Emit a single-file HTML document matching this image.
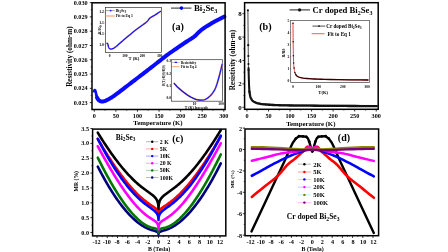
<!DOCTYPE html>
<html><head><meta charset="utf-8"><style>
html,body{margin:0;padding:0;background:#fff;}
svg{display:block;will-change:transform;filter:blur(0.35px);}
text{font-family:"Liberation Serif", serif;}
</style></head><body>
<svg width="448" height="252" viewBox="0 0 448 252">
<rect width="448" height="252" fill="#fff"/>
<line x1="89.80" y1="2.60" x2="92.00" y2="2.60" stroke="#000" stroke-width="0.8"/>
<text x="87.60" y="4.70" font-size="6.2" text-anchor="end" font-weight="bold" fill="#000" >0.030</text>
<line x1="89.80" y1="16.89" x2="92.00" y2="16.89" stroke="#000" stroke-width="0.8"/>
<text x="87.60" y="18.99" font-size="6.2" text-anchor="end" font-weight="bold" fill="#000" >0.029</text>
<line x1="89.80" y1="31.18" x2="92.00" y2="31.18" stroke="#000" stroke-width="0.8"/>
<text x="87.60" y="33.28" font-size="6.2" text-anchor="end" font-weight="bold" fill="#000" >0.028</text>
<line x1="89.80" y1="45.47" x2="92.00" y2="45.47" stroke="#000" stroke-width="0.8"/>
<text x="87.60" y="47.57" font-size="6.2" text-anchor="end" font-weight="bold" fill="#000" >0.027</text>
<line x1="89.80" y1="59.76" x2="92.00" y2="59.76" stroke="#000" stroke-width="0.8"/>
<text x="87.60" y="61.86" font-size="6.2" text-anchor="end" font-weight="bold" fill="#000" >0.026</text>
<line x1="89.80" y1="74.05" x2="92.00" y2="74.05" stroke="#000" stroke-width="0.8"/>
<text x="87.60" y="76.15" font-size="6.2" text-anchor="end" font-weight="bold" fill="#000" >0.025</text>
<line x1="89.80" y1="88.34" x2="92.00" y2="88.34" stroke="#000" stroke-width="0.8"/>
<text x="87.60" y="90.44" font-size="6.2" text-anchor="end" font-weight="bold" fill="#000" >0.024</text>
<line x1="89.80" y1="102.63" x2="92.00" y2="102.63" stroke="#000" stroke-width="0.8"/>
<text x="87.60" y="104.73" font-size="6.2" text-anchor="end" font-weight="bold" fill="#000" >0.023</text>
<line x1="90.70" y1="9.75" x2="92.00" y2="9.75" stroke="#000" stroke-width="0.6"/>
<line x1="90.70" y1="24.04" x2="92.00" y2="24.04" stroke="#000" stroke-width="0.6"/>
<line x1="90.70" y1="38.33" x2="92.00" y2="38.33" stroke="#000" stroke-width="0.6"/>
<line x1="90.70" y1="52.61" x2="92.00" y2="52.61" stroke="#000" stroke-width="0.6"/>
<line x1="90.70" y1="66.90" x2="92.00" y2="66.90" stroke="#000" stroke-width="0.6"/>
<line x1="90.70" y1="81.20" x2="92.00" y2="81.20" stroke="#000" stroke-width="0.6"/>
<line x1="90.70" y1="95.48" x2="92.00" y2="95.48" stroke="#000" stroke-width="0.6"/>
<line x1="94.30" y1="109.50" x2="94.30" y2="111.70" stroke="#000" stroke-width="0.8"/>
<text x="94.30" y="118.30" font-size="6.2" text-anchor="middle" font-weight="bold" fill="#000" >0</text>
<line x1="115.88" y1="109.50" x2="115.88" y2="111.70" stroke="#000" stroke-width="0.8"/>
<text x="115.88" y="118.30" font-size="6.2" text-anchor="middle" font-weight="bold" fill="#000" >50</text>
<line x1="137.47" y1="109.50" x2="137.47" y2="111.70" stroke="#000" stroke-width="0.8"/>
<text x="137.47" y="118.30" font-size="6.2" text-anchor="middle" font-weight="bold" fill="#000" >100</text>
<line x1="159.06" y1="109.50" x2="159.06" y2="111.70" stroke="#000" stroke-width="0.8"/>
<text x="159.06" y="118.30" font-size="6.2" text-anchor="middle" font-weight="bold" fill="#000" >150</text>
<line x1="180.64" y1="109.50" x2="180.64" y2="111.70" stroke="#000" stroke-width="0.8"/>
<text x="180.64" y="118.30" font-size="6.2" text-anchor="middle" font-weight="bold" fill="#000" >200</text>
<line x1="202.22" y1="109.50" x2="202.22" y2="111.70" stroke="#000" stroke-width="0.8"/>
<text x="202.22" y="118.30" font-size="6.2" text-anchor="middle" font-weight="bold" fill="#000" >250</text>
<line x1="223.81" y1="109.50" x2="223.81" y2="111.70" stroke="#000" stroke-width="0.8"/>
<text x="223.81" y="118.30" font-size="6.2" text-anchor="middle" font-weight="bold" fill="#000" >300</text>
<line x1="105.09" y1="109.50" x2="105.09" y2="110.80" stroke="#000" stroke-width="0.6"/>
<line x1="126.68" y1="109.50" x2="126.68" y2="110.80" stroke="#000" stroke-width="0.6"/>
<line x1="148.26" y1="109.50" x2="148.26" y2="110.80" stroke="#000" stroke-width="0.6"/>
<line x1="169.85" y1="109.50" x2="169.85" y2="110.80" stroke="#000" stroke-width="0.6"/>
<line x1="191.43" y1="109.50" x2="191.43" y2="110.80" stroke="#000" stroke-width="0.6"/>
<line x1="213.02" y1="109.50" x2="213.02" y2="110.80" stroke="#000" stroke-width="0.6"/>
<text x="158.00" y="124.90" font-size="6.8" text-anchor="middle" font-weight="bold" fill="#000" >Temperature (K)</text>
<text transform="translate(71.8,56.6) rotate(-90)" font-size="7.2" text-anchor="middle" font-weight="bold">Resistivity (ohm-m)</text>
<polyline points="97.00,97.60 97.12,97.79 97.28,98.06 97.47,98.38 97.68,98.72 97.91,99.08 98.14,99.43 98.37,99.74 98.60,100.00 98.82,100.21 99.05,100.41 99.29,100.58 99.52,100.73 99.77,100.87 100.01,100.99 100.26,101.10 100.50,101.20 100.74,101.29 100.96,101.37 101.19,101.43 101.42,101.48 101.66,101.51 101.91,101.53 102.19,101.53 102.50,101.50 102.82,101.46 103.14,101.42 103.48,101.36 103.83,101.28 104.22,101.17 104.65,101.03 105.14,100.84 105.70,100.60 106.33,100.31 107.02,99.98 107.76,99.61 108.55,99.21 109.38,98.76 110.23,98.28 111.11,97.76 112.00,97.20 112.89,96.61 113.79,96.00 114.70,95.35 115.64,94.66 116.63,93.93 117.68,93.15 118.80,92.30 120.00,91.40 121.32,90.41 122.74,89.32 124.25,88.16 125.81,86.96 127.40,85.74 128.98,84.52 130.52,83.33 132.00,82.20 133.42,81.12 134.80,80.06 136.15,79.03 137.50,78.01 138.85,76.98 140.20,75.94 141.58,74.89 143.00,73.80 144.45,72.69 145.91,71.56 147.38,70.41 148.88,69.26 150.38,68.09 151.91,66.90 153.45,65.71 155.00,64.50 156.61,63.25 158.30,61.93 160.02,60.57 161.75,59.22 163.45,57.89 165.08,56.63 166.61,55.45 168.00,54.40 169.23,53.49 170.30,52.71 171.28,52.02 172.19,51.39 173.07,50.79 173.98,50.18 174.94,49.53 176.00,48.80 177.17,48.00 178.41,47.15 179.69,46.27 181.00,45.37 182.31,44.49 183.59,43.62 184.83,42.78 186.00,42.00 187.12,41.27 188.21,40.58 189.28,39.92 190.31,39.27 191.31,38.65 192.26,38.03 193.16,37.42 194.00,36.80 194.77,36.18 195.46,35.55 196.09,34.94 196.69,34.32 197.26,33.72 197.82,33.13 198.40,32.56 199.00,32.00 199.60,31.47 200.16,30.98 200.70,30.51 201.25,30.04 201.83,29.57 202.47,29.09 203.18,28.57 204.00,28.00 204.95,27.37 206.04,26.68 207.21,25.95 208.44,25.20 209.67,24.46 210.87,23.75 211.99,23.09 213.00,22.50 213.90,21.99 214.73,21.53 215.50,21.11 216.22,20.72 216.93,20.36 217.61,20.01 218.30,19.66 219.00,19.30 219.74,18.92 220.52,18.53 221.31,18.13 222.07,17.75 222.80,17.39 223.44,17.07 223.99,16.80 224.40,16.60" fill="none" stroke="#0a0aff" stroke-width="4.0" stroke-linejoin="round" stroke-linecap="round" />
<polyline points="93.90,91.20 94.05,90.96 94.26,90.60 94.49,90.27 94.70,90.10 94.89,90.14 95.07,90.31 95.24,90.58 95.40,90.90 95.54,91.28 95.66,91.72 95.77,92.24 95.90,92.80 96.04,93.45 96.18,94.17 96.33,94.91 96.50,95.60 96.67,96.24 96.86,96.85 97.06,97.44 97.30,98.00 97.62,98.57 98.00,99.15 98.35,99.65 98.60,100.00" fill="none" stroke="#0a0aff" stroke-width="2.6" stroke-linejoin="round" stroke-linecap="round" />
<line x1="171.00" y1="8.10" x2="191.40" y2="8.10" stroke="#444" stroke-width="1.15"/>
<circle cx="181.40" cy="8.10" r="1.8" fill="#0000ff"/>
<text x="194" y="11.1" font-size="8.8" font-weight="bold">Bi<tspan font-size="6.2" dy="2">2</tspan><tspan dy="-2">Se</tspan><tspan font-size="6.2" dy="2">3</tspan></text>
<text x="172.00" y="30.20" font-size="10.2" text-anchor="start" font-weight="bold" fill="#000" >(a)</text>
<rect x="105.40" y="7.60" width="56.00" height="44.80" fill="none" stroke="#333" stroke-width="0.7"/>
<text x="104.00" y="13.40" font-size="3.8" text-anchor="end" font-weight="bold" fill="#000" >1.2</text>
<line x1="104.50" y1="12.10" x2="105.20" y2="12.10" stroke="#000" stroke-width="0.4"/>
<text x="104.00" y="24.20" font-size="3.8" text-anchor="end" font-weight="bold" fill="#000" >1.1</text>
<line x1="104.50" y1="22.90" x2="105.20" y2="22.90" stroke="#000" stroke-width="0.4"/>
<text x="104.00" y="35.00" font-size="3.8" text-anchor="end" font-weight="bold" fill="#000" >1.1</text>
<line x1="104.50" y1="33.70" x2="105.20" y2="33.70" stroke="#000" stroke-width="0.4"/>
<text x="104.00" y="45.80" font-size="3.8" text-anchor="end" font-weight="bold" fill="#000" >1.0</text>
<line x1="104.50" y1="44.50" x2="105.20" y2="44.50" stroke="#000" stroke-width="0.4"/>
<text x="109.60" y="56.70" font-size="3.6" text-anchor="middle" font-weight="bold" fill="#000" >0</text>
<text x="124.90" y="56.70" font-size="3.6" text-anchor="middle" font-weight="bold" fill="#000" >100</text>
<text x="142.40" y="56.70" font-size="3.6" text-anchor="middle" font-weight="bold" fill="#000" >200</text>
<text x="159.60" y="56.70" font-size="3.6" text-anchor="middle" font-weight="bold" fill="#000" >300</text>
<text x="134.00" y="60.40" font-size="4.6" text-anchor="middle" font-weight="bold" fill="#000" >T (K)</text>
<text transform="translate(101.2,29.8) rotate(-90)" font-size="4.2" text-anchor="middle" font-weight="bold">R/R<tspan font-size="3" dy="0.8">0</tspan></text>
<polyline points="107.00,43.30 107.06,43.33 107.14,43.36 107.23,43.38 107.34,43.42 107.45,43.49 107.57,43.60 107.68,43.77 107.80,44.00 107.91,44.33 108.02,44.75 108.13,45.23 108.24,45.76 108.36,46.28 108.50,46.79 108.64,47.24 108.80,47.60 108.98,47.89 109.17,48.14 109.37,48.36 109.59,48.54 109.81,48.70 110.04,48.82 110.27,48.92 110.50,49.00 110.73,49.06 110.94,49.09 111.16,49.09 111.39,49.07 111.63,49.02 111.89,48.94 112.18,48.84 112.50,48.70 112.83,48.56 113.14,48.44 113.46,48.29 113.81,48.12 114.22,47.88 114.70,47.57 115.29,47.15 116.00,46.60 116.85,45.90 117.84,45.06 118.93,44.11 120.09,43.08 121.31,42.00 122.55,40.91 123.79,39.83 125.00,38.80 126.20,37.79 127.43,36.76 128.68,35.72 129.94,34.67 131.21,33.63 132.48,32.60 133.74,31.59 135.00,30.60 136.30,29.60 137.68,28.57 139.08,27.54 140.47,26.53 141.80,25.56 143.03,24.67 144.11,23.87 145.00,23.20 145.67,22.68 146.16,22.29 146.51,22.01 146.75,21.79 146.93,21.62 147.09,21.45 147.26,21.25 147.50,21.00 147.77,20.70 148.04,20.37 148.29,20.04 148.53,19.71 148.77,19.38 149.01,19.06 149.25,18.77 149.50,18.50 149.74,18.27 149.96,18.07 150.18,17.89 150.41,17.72 150.64,17.56 150.89,17.39 151.18,17.20 151.50,17.00 151.85,16.78 152.22,16.57 152.61,16.36 153.03,16.13 153.48,15.89 153.95,15.62 154.46,15.33 155.00,15.00 155.63,14.60 156.36,14.13 157.16,13.61 157.97,13.07 158.75,12.56 159.46,12.08 160.06,11.69 160.50,11.40" fill="none" stroke="#f9b98a" stroke-width="1.7" stroke-linejoin="round" stroke-linecap="round" />
<polyline points="107.00,43.30 107.06,43.33 107.14,43.36 107.23,43.38 107.34,43.42 107.45,43.49 107.57,43.60 107.68,43.77 107.80,44.00 107.91,44.33 108.02,44.75 108.13,45.23 108.24,45.76 108.36,46.28 108.50,46.79 108.64,47.24 108.80,47.60 108.98,47.89 109.17,48.14 109.37,48.36 109.59,48.54 109.81,48.70 110.04,48.82 110.27,48.92 110.50,49.00 110.73,49.06 110.94,49.09 111.16,49.09 111.39,49.07 111.63,49.02 111.89,48.94 112.18,48.84 112.50,48.70 112.83,48.56 113.14,48.44 113.46,48.29 113.81,48.12 114.22,47.88 114.70,47.57 115.29,47.15 116.00,46.60 116.85,45.90 117.84,45.06 118.93,44.11 120.09,43.08 121.31,42.00 122.55,40.91 123.79,39.83 125.00,38.80 126.20,37.79 127.43,36.76 128.68,35.72 129.94,34.67 131.21,33.63 132.48,32.60 133.74,31.59 135.00,30.60 136.30,29.60 137.68,28.57 139.08,27.54 140.47,26.53 141.80,25.56 143.03,24.67 144.11,23.87 145.00,23.20 145.67,22.68 146.16,22.29 146.51,22.01 146.75,21.79 146.93,21.62 147.09,21.45 147.26,21.25 147.50,21.00 147.77,20.70 148.04,20.37 148.29,20.04 148.53,19.71 148.77,19.38 149.01,19.06 149.25,18.77 149.50,18.50 149.74,18.27 149.96,18.07 150.18,17.89 150.41,17.72 150.64,17.56 150.89,17.39 151.18,17.20 151.50,17.00 151.85,16.78 152.22,16.57 152.61,16.36 153.03,16.13 153.48,15.89 153.95,15.62 154.46,15.33 155.00,15.00 155.63,14.60 156.36,14.13 157.16,13.61 157.97,13.07 158.75,12.56 159.46,12.08 160.06,11.69 160.50,11.40" fill="none" stroke="#1a1aff" stroke-width="1.3" stroke-linejoin="round" stroke-linecap="round" />
<line x1="105.80" y1="10.60" x2="114.70" y2="10.60" stroke="#666" stroke-width="0.6"/>
<circle cx="110.60" cy="10.60" r="0.9" fill="#1a1aff"/>
<text x="115.8" y="12.0" font-size="3.8" font-weight="bold">Bi<tspan font-size="3" dy="1">2</tspan><tspan dy="-1">Se</tspan><tspan font-size="3" dy="1">3</tspan></text>
<line x1="105.80" y1="16.00" x2="114.70" y2="16.00" stroke="#fcc8a8" stroke-width="2.0"/>
<text x="115.80" y="17.40" font-size="3.8" text-anchor="start" font-weight="bold" fill="#000" >Fit to Eq 1</text>
<rect x="171.30" y="59.70" width="51.30" height="41.50" fill="none" stroke="#333" stroke-width="0.7"/>
<text x="171.00" y="62.30" font-size="3.6" text-anchor="end" font-weight="bold" fill="#000" >0.3</text>
<text x="171.00" y="74.80" font-size="3.6" text-anchor="end" font-weight="bold" fill="#000" >0.2</text>
<text x="171.00" y="86.50" font-size="3.6" text-anchor="end" font-weight="bold" fill="#000" >0.1</text>
<text x="171.00" y="98.60" font-size="3.6" text-anchor="end" font-weight="bold" fill="#000" >0.0</text>
<text x="194.60" y="104.80" font-size="3.6" text-anchor="middle" font-weight="bold" fill="#000" >10</text>
<text x="221.00" y="104.80" font-size="3.6" text-anchor="middle" font-weight="bold" fill="#000" >100</text>
<text x="196.60" y="108.60" font-size="3.8" text-anchor="middle" font-weight="bold" fill="#000" >T (K) log scale</text>
<text transform="translate(164.6,75.5) rotate(-90)" font-size="3.2" text-anchor="middle" font-weight="bold">R(T)-R(0)/R(0)</text>
<polyline points="174.30,83.50 174.57,83.80 174.91,84.20 175.32,84.66 175.78,85.19 176.28,85.75 176.83,86.34 177.40,86.92 178.00,87.50 178.64,88.08 179.34,88.70 180.08,89.34 180.86,89.99 181.65,90.65 182.45,91.29 183.23,91.91 184.00,92.50 184.75,93.07 185.50,93.62 186.25,94.16 187.00,94.69 187.75,95.20 188.50,95.69 189.25,96.16 190.00,96.60 190.75,97.02 191.51,97.42 192.27,97.79 193.03,98.15 193.79,98.48 194.54,98.78 195.27,99.06 196.00,99.30 196.72,99.51 197.43,99.70 198.14,99.86 198.84,99.99 199.53,100.10 200.21,100.16 200.86,100.20 201.50,100.20 202.11,100.17 202.68,100.11 203.24,100.03 203.78,99.91 204.32,99.75 204.86,99.55 205.42,99.30 206.00,99.00 206.60,98.65 207.23,98.27 207.86,97.84 208.50,97.36 209.14,96.84 209.77,96.28 210.40,95.66 211.00,95.00 211.59,94.30 212.18,93.55 212.77,92.77 213.34,91.94 213.91,91.05 214.46,90.10 214.99,89.09 215.50,88.00 215.99,86.83 216.45,85.57 216.90,84.25 217.33,82.86 217.75,81.43 218.17,79.97 218.58,78.49 219.00,77.00 219.44,75.40 219.90,73.63 220.36,71.77 220.82,69.91 221.25,68.14 221.63,66.54 221.96,65.20 222.20,64.20" fill="none" stroke="#f9b98a" stroke-width="2.0" stroke-linejoin="round" stroke-linecap="round" />
<polyline points="174.30,83.50 174.57,83.80 174.91,84.20 175.32,84.66 175.78,85.19 176.28,85.75 176.83,86.34 177.40,86.92 178.00,87.50 178.64,88.08 179.34,88.70 180.08,89.34 180.86,89.99 181.65,90.65 182.45,91.29 183.23,91.91 184.00,92.50 184.75,93.07 185.50,93.62 186.25,94.16 187.00,94.69 187.75,95.20 188.50,95.69 189.25,96.16 190.00,96.60 190.75,97.02 191.51,97.42 192.27,97.79 193.03,98.15 193.79,98.48 194.54,98.78 195.27,99.06 196.00,99.30 196.72,99.51 197.43,99.70 198.14,99.86 198.84,99.99 199.53,100.10 200.21,100.16 200.86,100.20 201.50,100.20 202.11,100.17 202.68,100.11 203.24,100.03 203.78,99.91 204.32,99.75 204.86,99.55 205.42,99.30 206.00,99.00 206.60,98.65 207.23,98.27 207.86,97.84 208.50,97.36 209.14,96.84 209.77,96.28 210.40,95.66 211.00,95.00 211.59,94.30 212.18,93.55 212.77,92.77 213.34,91.94 213.91,91.05 214.46,90.10 214.99,89.09 215.50,88.00 215.99,86.83 216.45,85.57 216.90,84.25 217.33,82.86 217.75,81.43 218.17,79.97 218.58,78.49 219.00,77.00 219.44,75.40 219.90,73.63 220.36,71.77 220.82,69.91 221.25,68.14 221.63,66.54 221.96,65.20 222.20,64.20" fill="none" stroke="#1a1aff" stroke-width="1.3" stroke-linejoin="round" stroke-linecap="round" />
<polyline points="174.30,83.50 174.57,83.80 174.91,84.20 175.32,84.66 175.78,85.19 176.28,85.75 176.83,86.34 177.40,86.92 178.00,87.50 178.64,88.08 179.34,88.70 180.08,89.34 180.86,89.99 181.65,90.65 182.45,91.29 183.23,91.91 184.00,92.50 184.75,93.07 185.50,93.62 186.25,94.16 187.00,94.69 187.75,95.20 188.50,95.69 189.25,96.16 190.00,96.60 190.75,97.02 191.51,97.42 192.27,97.79 193.03,98.15 193.79,98.48 194.54,98.78 195.27,99.06 196.00,99.30 196.75,99.50 197.54,99.67 198.34,99.81 199.12,99.92 199.86,100.01 200.52,100.08 201.08,100.14 201.50,100.20" fill="none" stroke="#1a1a70" stroke-width="0.9" stroke-linejoin="round" stroke-linecap="round" opacity="0.55"/>
<line x1="172.10" y1="62.40" x2="179.60" y2="62.40" stroke="#888" stroke-width="0.5"/>
<line x1="174.60" y1="62.40" x2="177.10" y2="62.40" stroke="#2222ff" stroke-width="1.3"/>
<text x="180.70" y="63.70" font-size="3.5" text-anchor="start" font-weight="bold" fill="#000" >Resistivity</text>
<line x1="172.10" y1="66.60" x2="179.60" y2="66.60" stroke="#fbb88a" stroke-width="1.2"/>
<text x="180.70" y="67.90" font-size="3.5" text-anchor="start" font-weight="bold" fill="#000" >Fit to Eq 4</text>
<rect x="92.00" y="2.80" width="133.10" height="106.70" fill="none" stroke="#000" stroke-width="1.5"/>
<line x1="242.40" y1="107.30" x2="244.60" y2="107.30" stroke="#000" stroke-width="0.8"/>
<text x="241.60" y="109.80" font-size="6.9" text-anchor="end" font-weight="bold" fill="#000" >0</text>
<line x1="242.40" y1="83.90" x2="244.60" y2="83.90" stroke="#000" stroke-width="0.8"/>
<text x="241.60" y="86.40" font-size="6.9" text-anchor="end" font-weight="bold" fill="#000" >2</text>
<line x1="242.40" y1="60.50" x2="244.60" y2="60.50" stroke="#000" stroke-width="0.8"/>
<text x="241.60" y="63.00" font-size="6.9" text-anchor="end" font-weight="bold" fill="#000" >4</text>
<line x1="242.40" y1="37.10" x2="244.60" y2="37.10" stroke="#000" stroke-width="0.8"/>
<text x="241.60" y="39.60" font-size="6.9" text-anchor="end" font-weight="bold" fill="#000" >6</text>
<line x1="242.40" y1="13.70" x2="244.60" y2="13.70" stroke="#000" stroke-width="0.8"/>
<text x="241.60" y="16.20" font-size="6.9" text-anchor="end" font-weight="bold" fill="#000" >8</text>
<line x1="243.30" y1="95.60" x2="244.60" y2="95.60" stroke="#000" stroke-width="0.6"/>
<line x1="243.30" y1="72.20" x2="244.60" y2="72.20" stroke="#000" stroke-width="0.6"/>
<line x1="243.30" y1="48.80" x2="244.60" y2="48.80" stroke="#000" stroke-width="0.6"/>
<line x1="243.30" y1="25.40" x2="244.60" y2="25.40" stroke="#000" stroke-width="0.6"/>
<line x1="246.95" y1="109.30" x2="246.95" y2="111.50" stroke="#000" stroke-width="0.8"/>
<text x="246.95" y="118.30" font-size="6.2" text-anchor="middle" font-weight="bold" fill="#000" >0</text>
<line x1="268.50" y1="109.30" x2="268.50" y2="111.50" stroke="#000" stroke-width="0.8"/>
<text x="268.50" y="118.30" font-size="6.2" text-anchor="middle" font-weight="bold" fill="#000" >50</text>
<line x1="290.04" y1="109.30" x2="290.04" y2="111.50" stroke="#000" stroke-width="0.8"/>
<text x="290.04" y="118.30" font-size="6.2" text-anchor="middle" font-weight="bold" fill="#000" >100</text>
<line x1="311.58" y1="109.30" x2="311.58" y2="111.50" stroke="#000" stroke-width="0.8"/>
<text x="311.58" y="118.30" font-size="6.2" text-anchor="middle" font-weight="bold" fill="#000" >150</text>
<line x1="333.13" y1="109.30" x2="333.13" y2="111.50" stroke="#000" stroke-width="0.8"/>
<text x="333.13" y="118.30" font-size="6.2" text-anchor="middle" font-weight="bold" fill="#000" >200</text>
<line x1="354.67" y1="109.30" x2="354.67" y2="111.50" stroke="#000" stroke-width="0.8"/>
<text x="354.67" y="118.30" font-size="6.2" text-anchor="middle" font-weight="bold" fill="#000" >250</text>
<line x1="376.22" y1="109.30" x2="376.22" y2="111.50" stroke="#000" stroke-width="0.8"/>
<text x="376.22" y="118.30" font-size="6.2" text-anchor="middle" font-weight="bold" fill="#000" >300</text>
<line x1="257.72" y1="109.30" x2="257.72" y2="110.60" stroke="#000" stroke-width="0.6"/>
<line x1="279.27" y1="109.30" x2="279.27" y2="110.60" stroke="#000" stroke-width="0.6"/>
<line x1="300.81" y1="109.30" x2="300.81" y2="110.60" stroke="#000" stroke-width="0.6"/>
<line x1="322.36" y1="109.30" x2="322.36" y2="110.60" stroke="#000" stroke-width="0.6"/>
<line x1="343.90" y1="109.30" x2="343.90" y2="110.60" stroke="#000" stroke-width="0.6"/>
<line x1="365.45" y1="109.30" x2="365.45" y2="110.60" stroke="#000" stroke-width="0.6"/>
<text x="310.80" y="125.90" font-size="6.8" text-anchor="middle" font-weight="bold" fill="#000" >Temperature (K)</text>
<text transform="translate(235.0,60.0) rotate(-90)" font-size="7.2" text-anchor="middle" font-weight="bold">Resistivity (ohm-m)</text>
<polyline points="247.90,10.30 247.93,14.07 247.97,19.29 248.03,25.46 248.08,32.13 248.14,38.80 248.20,45.00 248.26,51.13 248.33,57.64 248.39,64.17 248.46,70.32 248.53,75.73 248.60,80.00 248.66,82.92 248.73,84.76 248.79,85.84 248.85,86.52 248.92,87.12 249.00,88.00 249.09,89.09 249.18,90.11 249.28,91.06 249.38,91.94 249.49,92.75 249.60,93.50 249.72,94.17 249.84,94.74 249.97,95.26 250.10,95.72 250.25,96.16 250.40,96.60 250.56,97.02 250.73,97.41 250.91,97.78 251.09,98.13 251.29,98.47 251.50,98.80 251.70,99.12 251.90,99.43 252.11,99.72 252.34,100.01 252.64,100.30 253.00,100.60 253.45,100.91 253.99,101.24 254.57,101.56 255.18,101.87 255.80,102.16 256.40,102.40 256.98,102.59 257.56,102.75 258.15,102.88 258.75,102.99 259.36,103.09 260.00,103.20 260.59,103.31 261.10,103.41 261.63,103.51 262.27,103.60 263.09,103.70 264.20,103.80 265.61,103.91 267.26,104.04 269.09,104.16 271.08,104.29 273.16,104.40 275.30,104.50 277.36,104.59 279.37,104.66 281.47,104.73 283.83,104.79 286.62,104.84 290.00,104.90 294.11,104.96 298.87,105.01 304.04,105.06 309.43,105.11 314.82,105.16 320.00,105.20 325.05,105.24 330.15,105.28 335.25,105.31 340.30,105.34 345.23,105.37 350.00,105.40 354.87,105.42 359.93,105.44 364.88,105.46 369.41,105.48 373.22,105.49 376.00,105.50" fill="none" stroke="#444" stroke-width="1.0" stroke-linejoin="round" stroke-linecap="round" />
<polyline points="249.40,91.50 249.51,92.11 249.66,92.98 249.83,94.00 250.02,95.05 250.22,96.02 250.40,96.80 250.57,97.37 250.74,97.83 250.92,98.21 251.10,98.54 251.29,98.86 251.50,99.20 251.70,99.55 251.90,99.87 252.11,100.19 252.34,100.49 252.64,100.79 253.00,101.10 253.45,101.42 253.99,101.74 254.57,102.06 255.18,102.37 255.80,102.65 256.40,102.90 256.98,103.11 257.56,103.28 258.15,103.43 258.75,103.56 259.36,103.68 260.00,103.80 260.59,103.92 261.10,104.02 261.63,104.11 262.27,104.20 263.09,104.30 264.20,104.40 265.61,104.51 267.26,104.64 269.09,104.76 271.08,104.89 273.16,105.00 275.30,105.10 277.36,105.19 279.37,105.26 281.47,105.33 283.83,105.39 286.62,105.44 290.00,105.50 294.11,105.56 298.87,105.61 304.04,105.66 309.43,105.71 314.82,105.76 320.00,105.80 325.04,105.84 330.12,105.88 335.20,105.91 340.24,105.94 345.19,105.97 350.00,106.00 354.96,106.02 360.16,106.04 365.27,106.06 369.97,106.08 373.92,106.09 376.80,106.10" fill="none" stroke="#111" stroke-width="2.3" stroke-linejoin="round" stroke-linecap="round" />
<circle cx="247.90" cy="10.30" r="1.1" fill="#111"/>
<circle cx="248.20" cy="45.20" r="1.1" fill="#111"/>
<circle cx="248.35" cy="56.00" r="1.1" fill="#111"/>
<circle cx="248.50" cy="64.00" r="1.1" fill="#111"/>
<circle cx="248.60" cy="70.00" r="1.1" fill="#111"/>
<polyline points="248.55,68.00 248.80,78.00 249.10,86.00 249.50,92.00" fill="none" stroke="#111" stroke-width="2.0" stroke-linejoin="round" stroke-linecap="round" />
<line x1="289.60" y1="9.90" x2="310.00" y2="9.90" stroke="#444" stroke-width="1.2"/>
<circle cx="299.60" cy="9.90" r="1.6" fill="#111"/>
<text x="312.5" y="13.2" font-size="8.7" font-weight="bold">Cr doped Bi<tspan font-size="6" dy="2">2</tspan><tspan dy="-2">Se</tspan><tspan font-size="6" dy="2">3</tspan></text>
<text x="259.20" y="30.40" font-size="10.2" text-anchor="start" font-weight="bold" fill="#000" >(b)</text>
<rect x="290.70" y="20.50" width="78.80" height="61.90" fill="none" stroke="#444" stroke-width="0.7"/>
<text x="289.20" y="82.00" font-size="3.6" text-anchor="end" font-weight="bold" fill="#000" >0</text>
<line x1="289.90" y1="80.80" x2="290.70" y2="80.80" stroke="#000" stroke-width="0.4"/>
<text x="289.20" y="69.94" font-size="3.6" text-anchor="end" font-weight="bold" fill="#000" >1</text>
<line x1="289.90" y1="68.74" x2="290.70" y2="68.74" stroke="#000" stroke-width="0.4"/>
<text x="289.20" y="57.88" font-size="3.6" text-anchor="end" font-weight="bold" fill="#000" >2</text>
<line x1="289.90" y1="56.68" x2="290.70" y2="56.68" stroke="#000" stroke-width="0.4"/>
<text x="289.20" y="45.82" font-size="3.6" text-anchor="end" font-weight="bold" fill="#000" >3</text>
<line x1="289.90" y1="44.62" x2="290.70" y2="44.62" stroke="#000" stroke-width="0.4"/>
<text x="289.20" y="33.76" font-size="3.6" text-anchor="end" font-weight="bold" fill="#000" >4</text>
<line x1="289.90" y1="32.56" x2="290.70" y2="32.56" stroke="#000" stroke-width="0.4"/>
<text x="289.20" y="21.70" font-size="3.6" text-anchor="end" font-weight="bold" fill="#000" >5</text>
<line x1="289.90" y1="20.50" x2="290.70" y2="20.50" stroke="#000" stroke-width="0.4"/>
<text x="293.00" y="88.00" font-size="3.6" text-anchor="middle" font-weight="bold" fill="#000" >0</text>
<text x="318.30" y="88.00" font-size="3.6" text-anchor="middle" font-weight="bold" fill="#000" >100</text>
<text x="342.80" y="88.00" font-size="3.6" text-anchor="middle" font-weight="bold" fill="#000" >200</text>
<text x="367.20" y="88.00" font-size="3.6" text-anchor="middle" font-weight="bold" fill="#000" >300</text>
<text x="323.20" y="93.50" font-size="4.6" text-anchor="middle" font-weight="bold" fill="#000" >T(K)</text>
<text transform="translate(284.6,53) rotate(-90)" font-size="4" text-anchor="middle" font-weight="bold">R/R0</text>
<polyline points="293.00,23.20 293.02,25.65 293.05,29.10 293.08,33.16 293.12,37.43 293.16,41.51 293.20,45.00 293.24,47.97 293.29,50.76 293.33,53.36 293.38,55.77 293.44,57.98 293.50,60.00 293.57,61.78 293.64,63.31 293.72,64.66 293.80,65.85 293.90,66.95 294.00,68.00 294.11,68.97 294.23,69.83 294.36,70.58 294.49,71.26 294.64,71.89 294.80,72.50 294.97,73.07 295.14,73.57 295.33,74.03 295.53,74.45 295.75,74.83 296.00,75.20 296.26,75.53 296.53,75.83 296.82,76.09 297.16,76.34 297.54,76.57 298.00,76.80 298.52,77.03 299.09,77.25 299.71,77.46 300.40,77.65 301.16,77.83 302.00,78.00 302.89,78.15 303.83,78.27 304.84,78.39 305.95,78.49 307.19,78.59 308.60,78.70 310.12,78.81 311.73,78.91 313.46,79.02 315.39,79.12 317.55,79.21 320.00,79.30 322.74,79.38 325.73,79.45 328.96,79.52 332.42,79.58 336.10,79.64 340.00,79.70 344.53,79.76 349.78,79.82 355.25,79.88 360.44,79.93 364.86,79.97 368.00,80.00" fill="none" stroke="#ff2020" stroke-width="0.9" stroke-linejoin="round" stroke-linecap="round" />
<circle cx="293.00" cy="23.30" r="0.75" fill="#111"/>
<circle cx="293.20" cy="41.70" r="0.75" fill="#111"/>
<circle cx="293.40" cy="55.70" r="0.75" fill="#111"/>
<circle cx="293.60" cy="62.90" r="0.75" fill="#111"/>
<circle cx="294.10" cy="68.00" r="0.75" fill="#111"/>
<circle cx="294.90" cy="72.40" r="0.75" fill="#111"/>
<polyline points="295.50,74.00 295.73,74.37 296.06,74.91 296.48,75.50 297.00,76.00 297.60,76.40 298.28,76.77 299.07,77.10 300.00,77.40 300.99,77.66 302.06,77.89 303.35,78.10 305.00,78.30 307.03,78.49 309.38,78.67 312.03,78.84 315.00,79.00 317.86,79.14 320.75,79.26 324.52,79.38 330.00,79.50 338.77,79.64 349.94,79.78 360.63,79.91 368.00,80.00" fill="none" stroke="#300" stroke-width="1.3" stroke-linejoin="round" stroke-linecap="round" />
<line x1="312.40" y1="26.10" x2="325.30" y2="26.10" stroke="#222" stroke-width="0.8"/>
<circle cx="319.00" cy="26.10" r="0.9" fill="#111"/>
<text x="326.3" y="28.0" font-size="5.1" font-weight="bold">Cr doped Bi<tspan font-size="3.6" dy="1.2">2</tspan><tspan dy="-1.2">Se</tspan><tspan font-size="3.6" dy="1.2">3</tspan></text>
<line x1="311.70" y1="33.70" x2="324.60" y2="33.70" stroke="#ff3030" stroke-width="0.8"/>
<text x="327.40" y="35.60" font-size="5.2" text-anchor="start" font-weight="bold" fill="#000" >Fit to Eq 1</text>
<rect x="244.60" y="2.70" width="133.60" height="106.60" fill="none" stroke="#000" stroke-width="1.5"/>
<line x1="90.40" y1="232.50" x2="92.60" y2="232.50" stroke="#000" stroke-width="0.8"/>
<text x="89.00" y="234.60" font-size="6.2" text-anchor="end" font-weight="bold" fill="#000" >0.0</text>
<line x1="90.40" y1="217.65" x2="92.60" y2="217.65" stroke="#000" stroke-width="0.8"/>
<text x="89.00" y="219.75" font-size="6.2" text-anchor="end" font-weight="bold" fill="#000" >0.5</text>
<line x1="90.40" y1="202.79" x2="92.60" y2="202.79" stroke="#000" stroke-width="0.8"/>
<text x="89.00" y="204.89" font-size="6.2" text-anchor="end" font-weight="bold" fill="#000" >1.0</text>
<line x1="90.40" y1="187.94" x2="92.60" y2="187.94" stroke="#000" stroke-width="0.8"/>
<text x="89.00" y="190.03" font-size="6.2" text-anchor="end" font-weight="bold" fill="#000" >1.5</text>
<line x1="90.40" y1="173.08" x2="92.60" y2="173.08" stroke="#000" stroke-width="0.8"/>
<text x="89.00" y="175.18" font-size="6.2" text-anchor="end" font-weight="bold" fill="#000" >2.0</text>
<line x1="90.40" y1="158.22" x2="92.60" y2="158.22" stroke="#000" stroke-width="0.8"/>
<text x="89.00" y="160.32" font-size="6.2" text-anchor="end" font-weight="bold" fill="#000" >2.5</text>
<line x1="90.40" y1="143.37" x2="92.60" y2="143.37" stroke="#000" stroke-width="0.8"/>
<text x="89.00" y="145.47" font-size="6.2" text-anchor="end" font-weight="bold" fill="#000" >3.0</text>
<line x1="90.40" y1="128.51" x2="92.60" y2="128.51" stroke="#000" stroke-width="0.8"/>
<text x="89.00" y="130.61" font-size="6.2" text-anchor="end" font-weight="bold" fill="#000" >3.5</text>
<line x1="91.30" y1="225.07" x2="92.60" y2="225.07" stroke="#000" stroke-width="0.6"/>
<line x1="91.30" y1="210.22" x2="92.60" y2="210.22" stroke="#000" stroke-width="0.6"/>
<line x1="91.30" y1="195.36" x2="92.60" y2="195.36" stroke="#000" stroke-width="0.6"/>
<line x1="91.30" y1="180.51" x2="92.60" y2="180.51" stroke="#000" stroke-width="0.6"/>
<line x1="91.30" y1="165.65" x2="92.60" y2="165.65" stroke="#000" stroke-width="0.6"/>
<line x1="91.30" y1="150.80" x2="92.60" y2="150.80" stroke="#000" stroke-width="0.6"/>
<line x1="91.30" y1="135.94" x2="92.60" y2="135.94" stroke="#000" stroke-width="0.6"/>
<line x1="97.00" y1="235.90" x2="97.00" y2="238.10" stroke="#000" stroke-width="0.8"/>
<text x="96.60" y="244.30" font-size="6.2" text-anchor="middle" font-weight="bold" fill="#000" >-12</text>
<line x1="107.25" y1="235.90" x2="107.25" y2="238.10" stroke="#000" stroke-width="0.8"/>
<text x="106.85" y="244.30" font-size="6.2" text-anchor="middle" font-weight="bold" fill="#000" >-10</text>
<line x1="117.50" y1="235.90" x2="117.50" y2="238.10" stroke="#000" stroke-width="0.8"/>
<text x="117.10" y="244.30" font-size="6.2" text-anchor="middle" font-weight="bold" fill="#000" >-8</text>
<line x1="127.75" y1="235.90" x2="127.75" y2="238.10" stroke="#000" stroke-width="0.8"/>
<text x="127.35" y="244.30" font-size="6.2" text-anchor="middle" font-weight="bold" fill="#000" >-6</text>
<line x1="138.00" y1="235.90" x2="138.00" y2="238.10" stroke="#000" stroke-width="0.8"/>
<text x="137.60" y="244.30" font-size="6.2" text-anchor="middle" font-weight="bold" fill="#000" >-4</text>
<line x1="148.25" y1="235.90" x2="148.25" y2="238.10" stroke="#000" stroke-width="0.8"/>
<text x="147.85" y="244.30" font-size="6.2" text-anchor="middle" font-weight="bold" fill="#000" >-2</text>
<line x1="158.50" y1="235.90" x2="158.50" y2="238.10" stroke="#000" stroke-width="0.8"/>
<text x="158.50" y="244.30" font-size="6.2" text-anchor="middle" font-weight="bold" fill="#000" >0</text>
<line x1="168.75" y1="235.90" x2="168.75" y2="238.10" stroke="#000" stroke-width="0.8"/>
<text x="168.75" y="244.30" font-size="6.2" text-anchor="middle" font-weight="bold" fill="#000" >2</text>
<line x1="179.00" y1="235.90" x2="179.00" y2="238.10" stroke="#000" stroke-width="0.8"/>
<text x="179.00" y="244.30" font-size="6.2" text-anchor="middle" font-weight="bold" fill="#000" >4</text>
<line x1="189.25" y1="235.90" x2="189.25" y2="238.10" stroke="#000" stroke-width="0.8"/>
<text x="189.25" y="244.30" font-size="6.2" text-anchor="middle" font-weight="bold" fill="#000" >6</text>
<line x1="199.50" y1="235.90" x2="199.50" y2="238.10" stroke="#000" stroke-width="0.8"/>
<text x="199.50" y="244.30" font-size="6.2" text-anchor="middle" font-weight="bold" fill="#000" >8</text>
<line x1="209.75" y1="235.90" x2="209.75" y2="238.10" stroke="#000" stroke-width="0.8"/>
<text x="209.75" y="244.30" font-size="6.2" text-anchor="middle" font-weight="bold" fill="#000" >10</text>
<line x1="220.00" y1="235.90" x2="220.00" y2="238.10" stroke="#000" stroke-width="0.8"/>
<text x="220.00" y="244.30" font-size="6.2" text-anchor="middle" font-weight="bold" fill="#000" >12</text>
<line x1="102.12" y1="235.90" x2="102.12" y2="237.20" stroke="#000" stroke-width="0.6"/>
<line x1="112.38" y1="235.90" x2="112.38" y2="237.20" stroke="#000" stroke-width="0.6"/>
<line x1="122.62" y1="235.90" x2="122.62" y2="237.20" stroke="#000" stroke-width="0.6"/>
<line x1="132.88" y1="235.90" x2="132.88" y2="237.20" stroke="#000" stroke-width="0.6"/>
<line x1="143.12" y1="235.90" x2="143.12" y2="237.20" stroke="#000" stroke-width="0.6"/>
<line x1="153.38" y1="235.90" x2="153.38" y2="237.20" stroke="#000" stroke-width="0.6"/>
<line x1="163.62" y1="235.90" x2="163.62" y2="237.20" stroke="#000" stroke-width="0.6"/>
<line x1="173.88" y1="235.90" x2="173.88" y2="237.20" stroke="#000" stroke-width="0.6"/>
<line x1="184.12" y1="235.90" x2="184.12" y2="237.20" stroke="#000" stroke-width="0.6"/>
<line x1="194.38" y1="235.90" x2="194.38" y2="237.20" stroke="#000" stroke-width="0.6"/>
<line x1="204.62" y1="235.90" x2="204.62" y2="237.20" stroke="#000" stroke-width="0.6"/>
<line x1="214.88" y1="235.90" x2="214.88" y2="237.20" stroke="#000" stroke-width="0.6"/>
<text x="159.00" y="250.80" font-size="5.9" text-anchor="middle" font-weight="bold" fill="#000" >B (Tesla)</text>
<text transform="translate(77.8,181.2) rotate(-90)" font-size="5.7" text-anchor="middle" font-weight="bold">MR (%)</text>
<polyline points="97.80,166.60 98.50,167.97 99.52,169.92 100.53,171.85 101.55,173.75 102.57,175.63 103.58,177.48 104.60,179.30 105.62,181.09 106.64,182.85 107.65,184.59 108.67,186.30 109.69,187.98 110.70,189.63 111.72,191.25 112.74,192.85 113.75,194.41 114.77,195.95 115.79,197.45 116.81,198.93 117.82,200.38 118.84,201.80 119.86,203.18 120.87,204.54 121.89,205.86 122.91,207.16 123.92,208.42 124.94,209.65 125.96,210.86 126.97,212.02 127.99,213.16 129.01,214.27 130.03,215.34 131.04,216.38 132.06,217.38 133.08,218.36 134.09,219.30 135.11,220.20 136.13,221.07 137.14,221.91 138.16,222.71 139.18,223.48 140.19,224.21 141.21,224.90 142.23,225.56 143.25,226.19 144.26,226.78 145.28,227.33 146.30,227.85 147.31,228.33 148.33,228.78 149.35,229.19 150.36,229.57 151.38,229.92 152.40,230.24 153.42,230.54 154.43,230.84 155.45,231.14 155.50,231.16 156.47,231.50 156.50,231.51 157.00,231.74 157.48,232.03 157.50,232.04 158.00,232.51 158.25,232.92 158.40,233.33 158.50,234.20 158.60,233.33 158.75,232.92 159.00,232.51 159.50,232.04 159.52,232.03 160.00,231.74 160.50,231.51 160.53,231.50 161.50,231.16 161.55,231.14 162.57,230.84 163.58,230.54 164.60,230.24 165.62,229.92 166.64,229.57 167.65,229.19 168.67,228.78 169.69,228.33 170.70,227.85 171.72,227.33 172.74,226.78 173.75,226.19 174.77,225.56 175.79,224.90 176.81,224.21 177.82,223.48 178.84,222.71 179.86,221.91 180.87,221.07 181.89,220.20 182.91,219.30 183.92,218.36 184.94,217.38 185.96,216.38 186.97,215.34 187.99,214.27 189.01,213.16 190.03,212.02 191.04,210.86 192.06,209.65 193.08,208.42 194.09,207.16 195.11,205.86 196.13,204.54 197.14,203.18 198.16,201.80 199.18,200.38 200.19,198.93 201.21,197.45 202.23,195.95 203.25,194.41 204.26,192.85 205.28,191.25 206.30,189.63 207.31,187.98 208.33,186.30 209.35,184.59 210.36,182.85 211.38,181.09 212.40,179.30 213.42,177.48 214.43,175.63 215.45,173.75 216.47,171.85 217.48,169.92 218.50,167.97 219.70,165.62 220.80,163.44" fill="none" stroke="#00007f" stroke-width="2.6" stroke-linejoin="round" stroke-linecap="round" />
<polyline points="97.80,157.73 98.50,159.14 99.52,161.17 100.53,163.18 101.55,165.17 102.57,167.14 103.58,169.08 104.60,171.01 105.62,172.91 106.64,174.80 107.65,176.65 108.67,178.49 109.69,180.30 110.70,182.09 111.72,183.85 112.74,185.59 113.75,187.31 114.77,189.00 115.79,190.66 116.81,192.29 117.82,193.90 118.84,195.48 119.86,197.03 120.87,198.56 121.89,200.05 122.91,201.52 123.92,202.95 124.94,204.35 125.96,205.72 126.97,207.06 127.99,208.37 129.01,209.64 130.03,210.88 131.04,212.08 132.06,213.25 133.08,214.38 134.09,215.47 135.11,216.53 136.13,217.54 137.14,218.52 138.16,219.45 139.18,220.35 140.19,221.20 141.21,222.01 142.23,222.77 143.25,223.48 144.26,224.15 145.28,224.78 146.30,225.35 147.31,225.88 148.33,226.36 149.35,226.79 150.36,227.17 151.38,227.51 152.40,227.80 153.42,228.06 154.43,228.31 155.45,228.56 155.50,228.57 156.47,228.88 156.50,228.89 157.00,229.13 157.48,229.47 157.50,229.48 158.00,230.10 158.25,230.68 158.40,231.31 158.50,232.71 158.60,231.31 158.75,230.68 159.00,230.10 159.50,229.48 159.52,229.47 160.00,229.13 160.50,228.89 160.53,228.88 161.50,228.57 161.55,228.56 162.57,228.31 163.58,228.06 164.60,227.80 165.62,227.51 166.64,227.17 167.65,226.79 168.67,226.36 169.69,225.88 170.70,225.35 171.72,224.78 172.74,224.15 173.75,223.48 174.77,222.77 175.79,222.01 176.81,221.20 177.82,220.35 178.84,219.45 179.86,218.52 180.87,217.54 181.89,216.53 182.91,215.47 183.92,214.38 184.94,213.25 185.96,212.08 186.97,210.88 187.99,209.64 189.01,208.37 190.03,207.06 191.04,205.72 192.06,204.35 193.08,202.95 194.09,201.52 195.11,200.05 196.13,198.56 197.14,197.03 198.16,195.48 199.18,193.90 200.19,192.29 201.21,190.66 202.23,189.00 203.25,187.31 204.26,185.59 205.28,183.85 206.30,182.09 207.31,180.30 208.33,178.49 209.35,176.65 210.36,174.80 211.38,172.91 212.40,171.01 213.42,169.08 214.43,167.14 215.45,165.17 216.47,163.18 217.48,161.17 218.50,159.14 219.70,156.71 220.80,154.47" fill="none" stroke="#007700" stroke-width="2.6" stroke-linejoin="round" stroke-linecap="round" />
<polyline points="97.80,146.26 98.50,147.56 99.52,149.44 100.53,151.30 101.55,153.16 102.57,155.00 103.58,156.82 104.60,158.64 105.62,160.44 106.64,162.23 107.65,164.00 108.67,165.75 109.69,167.50 110.70,169.22 111.72,170.93 112.74,172.62 113.75,174.30 114.77,175.95 115.79,177.59 116.81,179.21 117.82,180.81 118.84,182.39 119.86,183.95 120.87,185.49 121.89,187.01 122.91,188.51 123.92,189.98 124.94,191.43 125.96,192.86 126.97,194.26 127.99,195.63 129.01,196.98 130.03,198.30 131.04,199.60 132.06,200.87 133.08,202.11 134.09,203.32 135.11,204.49 136.13,205.64 137.14,206.76 138.16,207.84 139.18,208.89 140.19,209.91 141.21,210.89 142.23,211.83 143.25,212.74 144.26,213.62 145.28,214.46 146.30,215.26 147.31,216.02 148.33,216.76 149.35,217.45 150.36,218.12 151.38,218.77 152.40,219.40 153.42,220.03 154.43,220.69 155.45,221.42 155.50,221.46 156.47,222.33 156.50,222.37 157.00,222.96 157.48,223.73 157.50,223.76 158.00,224.98 158.25,226.00 158.40,227.05 158.50,229.22 158.60,227.05 158.75,226.00 159.00,224.98 159.50,223.76 159.52,223.73 160.00,222.96 160.50,222.37 160.53,222.33 161.50,221.46 161.55,221.42 162.57,220.69 163.58,220.03 164.60,219.40 165.62,218.77 166.64,218.12 167.65,217.45 168.67,216.76 169.69,216.02 170.70,215.26 171.72,214.46 172.74,213.62 173.75,212.74 174.77,211.83 175.79,210.89 176.81,209.91 177.82,208.89 178.84,207.84 179.86,206.76 180.87,205.64 181.89,204.49 182.91,203.32 183.92,202.11 184.94,200.87 185.96,199.60 186.97,198.30 187.99,196.98 189.01,195.63 190.03,194.26 191.04,192.86 192.06,191.43 193.08,189.98 194.09,188.51 195.11,187.01 196.13,185.49 197.14,183.95 198.16,182.39 199.18,180.81 200.19,179.21 201.21,177.59 202.23,175.95 203.25,174.30 204.26,172.62 205.28,170.93 206.30,169.22 207.31,167.50 208.33,165.75 209.35,164.00 210.36,162.23 211.38,160.44 212.40,158.64 213.42,156.82 214.43,155.00 215.45,153.16 216.47,151.30 217.48,149.44 218.50,147.56 219.70,145.33 220.80,143.27" fill="none" stroke="#ff00ff" stroke-width="2.6" stroke-linejoin="round" stroke-linecap="round" />
<polyline points="97.80,139.12 98.50,140.32 99.52,142.05 100.53,143.77 101.55,145.47 102.57,147.16 103.58,148.83 104.60,150.48 105.62,152.12 106.64,153.75 107.65,155.36 108.67,156.95 109.69,158.53 110.70,160.08 111.72,161.63 112.74,163.15 113.75,164.66 114.77,166.15 115.79,167.62 116.81,169.07 117.82,170.51 118.84,171.92 119.86,173.32 120.87,174.70 121.89,176.06 122.91,177.39 123.92,178.71 124.94,180.01 125.96,181.28 126.97,182.54 127.99,183.77 129.01,184.98 130.03,186.17 131.04,187.34 132.06,188.48 133.08,189.60 134.09,190.70 135.11,191.77 136.13,192.82 137.14,193.84 138.16,194.84 139.18,195.82 140.19,196.76 141.21,197.69 142.23,198.58 143.25,199.45 144.26,200.29 145.28,201.11 146.30,201.90 147.31,202.67 148.33,203.41 149.35,204.13 150.36,204.84 151.38,205.52 152.40,206.20 153.42,206.87 154.43,207.56 155.45,208.30 155.50,208.34 156.47,209.16 156.50,209.19 157.00,209.71 157.48,210.32 157.50,210.35 158.00,211.25 158.25,211.96 158.40,212.65 158.50,214.02 158.60,212.65 158.75,211.96 159.00,211.25 159.50,210.35 159.52,210.32 160.00,209.71 160.50,209.19 160.53,209.16 161.50,208.34 161.55,208.30 162.57,207.56 163.58,206.87 164.60,206.20 165.62,205.52 166.64,204.84 167.65,204.13 168.67,203.41 169.69,202.67 170.70,201.90 171.72,201.11 172.74,200.29 173.75,199.45 174.77,198.58 175.79,197.69 176.81,196.76 177.82,195.82 178.84,194.84 179.86,193.84 180.87,192.82 181.89,191.77 182.91,190.70 183.92,189.60 184.94,188.48 185.96,187.34 186.97,186.17 187.99,184.98 189.01,183.77 190.03,182.54 191.04,181.28 192.06,180.01 193.08,178.71 194.09,177.39 195.11,176.06 196.13,174.70 197.14,173.32 198.16,171.92 199.18,170.51 200.19,169.07 201.21,167.62 202.23,166.15 203.25,164.66 204.26,163.15 205.28,161.63 206.30,160.08 207.31,158.53 208.33,156.95 209.35,155.36 210.36,153.75 211.38,152.12 212.40,150.48 213.42,148.83 214.43,147.16 215.45,145.47 216.47,143.77 217.48,142.05 218.50,140.32 219.70,138.26 220.80,136.35" fill="none" stroke="#ff0000" stroke-width="2.6" stroke-linejoin="round" stroke-linecap="round" />
<polyline points="97.80,138.75 98.50,140.10 99.52,142.05 100.53,143.97 101.55,145.87 102.57,147.75 103.58,149.61 104.60,151.44 105.62,153.25 106.64,155.04 107.65,156.80 108.67,158.54 109.69,160.26 110.70,161.95 111.72,163.62 112.74,165.26 113.75,166.88 114.77,168.47 115.79,170.04 116.81,171.58 117.82,173.10 118.84,174.60 119.86,176.06 120.87,177.50 121.89,178.92 122.91,180.31 123.92,181.67 124.94,183.01 125.96,184.32 126.97,185.60 127.99,186.86 129.01,188.09 130.03,189.29 131.04,190.47 132.06,191.61 133.08,192.73 134.09,193.83 135.11,194.89 136.13,195.93 137.14,196.94 138.16,197.92 139.18,198.87 140.19,199.80 141.21,200.70 142.23,201.57 143.25,202.42 144.26,203.24 145.28,204.04 146.30,204.82 147.31,205.58 148.33,206.32 149.35,207.05 150.36,207.77 151.38,208.49 152.40,209.22 153.42,209.98 154.43,210.80 155.45,211.73 155.50,211.78 156.47,212.87 156.50,212.91 157.00,213.63 157.48,214.50 157.50,214.54 158.00,215.85 158.25,216.89 158.40,217.89 158.50,219.85 158.60,217.89 158.75,216.89 159.00,215.85 159.50,214.54 159.52,214.50 160.00,213.63 160.50,212.91 160.53,212.87 161.50,211.78 161.55,211.73 162.57,210.80 163.58,209.98 164.60,209.22 165.62,208.49 166.64,207.77 167.65,207.05 168.67,206.32 169.69,205.58 170.70,204.82 171.72,204.04 172.74,203.24 173.75,202.42 174.77,201.57 175.79,200.70 176.81,199.80 177.82,198.87 178.84,197.92 179.86,196.94 180.87,195.93 181.89,194.89 182.91,193.83 183.92,192.73 184.94,191.61 185.96,190.47 186.97,189.29 187.99,188.09 189.01,186.86 190.03,185.60 191.04,184.32 192.06,183.01 193.08,181.67 194.09,180.31 195.11,178.92 196.13,177.50 197.14,176.06 198.16,174.60 199.18,173.10 200.19,171.58 201.21,170.04 202.23,168.47 203.25,166.88 204.26,165.26 205.28,163.62 206.30,161.95 207.31,160.26 208.33,158.54 209.35,156.80 210.36,155.04 211.38,153.25 212.40,151.44 213.42,149.61 214.43,147.75 215.45,145.87 216.47,143.97 217.48,142.05 218.50,140.10 219.70,137.78 220.80,135.62" fill="none" stroke="#0000ff" stroke-width="2.6" stroke-linejoin="round" stroke-linecap="round" />
<polyline points="97.80,132.69 98.50,133.84 99.52,135.48 100.53,137.11 101.55,138.73 102.57,140.33 103.58,141.91 104.60,143.47 105.62,145.02 106.64,146.55 107.65,148.06 108.67,149.55 109.69,151.03 110.70,152.49 111.72,153.93 112.74,155.35 113.75,156.75 114.77,158.13 115.79,159.49 116.81,160.84 117.82,162.16 118.84,163.47 119.86,164.75 120.87,166.01 121.89,167.25 122.91,168.48 123.92,169.68 124.94,170.85 125.96,172.01 126.97,173.15 127.99,174.26 129.01,175.35 130.03,176.42 131.04,177.47 132.06,178.49 133.08,179.49 134.09,180.47 135.11,181.43 136.13,182.36 137.14,183.28 138.16,184.17 139.18,185.03 140.19,185.88 141.21,186.70 142.23,187.51 143.25,188.30 144.26,189.06 145.28,189.82 146.30,190.56 147.31,191.28 148.33,192.01 149.35,192.73 150.36,193.46 151.38,194.21 152.40,194.99 153.42,195.84 154.43,196.79 155.45,197.90 155.50,197.97 156.47,199.34 156.50,199.40 157.00,200.34 157.48,201.50 157.50,201.55 158.00,203.34 158.25,204.77 158.40,206.17 158.50,208.91 158.60,206.17 158.75,204.77 159.00,203.34 159.50,201.55 159.52,201.50 160.00,200.34 160.50,199.40 160.53,199.34 161.50,197.97 161.55,197.90 162.57,196.79 163.58,195.84 164.60,194.99 165.62,194.21 166.64,193.46 167.65,192.73 168.67,192.01 169.69,191.28 170.70,190.56 171.72,189.82 172.74,189.06 173.75,188.30 174.77,187.51 175.79,186.70 176.81,185.88 177.82,185.03 178.84,184.17 179.86,183.28 180.87,182.36 181.89,181.43 182.91,180.47 183.92,179.49 184.94,178.49 185.96,177.47 186.97,176.42 187.99,175.35 189.01,174.26 190.03,173.15 191.04,172.01 192.06,170.85 193.08,169.68 194.09,168.48 195.11,167.25 196.13,166.01 197.14,164.75 198.16,163.47 199.18,162.16 200.19,160.84 201.21,159.49 202.23,158.13 203.25,156.75 204.26,155.35 205.28,153.93 206.30,152.49 207.31,151.03 208.33,149.55 209.35,148.06 210.36,146.55 211.38,145.02 212.40,143.47 213.42,141.91 214.43,140.33 215.45,138.73 216.47,137.11 217.48,135.48 218.50,133.84 219.70,131.87 220.80,130.05" fill="none" stroke="#000000" stroke-width="2.6" stroke-linejoin="round" stroke-linecap="round" />
<line x1="146.00" y1="141.70" x2="158.30" y2="141.70" stroke="#bbb" stroke-width="1.1"/>
<circle cx="152.20" cy="141.70" r="1.2" fill="#000"/>
<text x="159.80" y="143.70" font-size="5.8" text-anchor="start" font-weight="bold" fill="#000" >2 K</text>
<line x1="146.00" y1="148.90" x2="158.30" y2="148.90" stroke="#ffb0b0" stroke-width="1.1"/>
<circle cx="152.20" cy="148.90" r="1.2" fill="#ff0000"/>
<text x="159.80" y="150.90" font-size="5.8" text-anchor="start" font-weight="bold" fill="#000" >5K</text>
<line x1="146.00" y1="156.10" x2="158.30" y2="156.10" stroke="#b0b0ff" stroke-width="1.1"/>
<circle cx="152.20" cy="156.10" r="1.2" fill="#0000ff"/>
<text x="159.80" y="158.10" font-size="5.8" text-anchor="start" font-weight="bold" fill="#000" >10K</text>
<line x1="146.00" y1="163.30" x2="158.30" y2="163.30" stroke="#ffb0ff" stroke-width="1.1"/>
<circle cx="152.20" cy="163.30" r="1.2" fill="#ff00ff"/>
<text x="159.80" y="165.30" font-size="5.8" text-anchor="start" font-weight="bold" fill="#000" >20 K</text>
<line x1="146.00" y1="170.40" x2="158.30" y2="170.40" stroke="#b0d8b0" stroke-width="1.1"/>
<circle cx="152.20" cy="170.40" r="1.2" fill="#007700"/>
<text x="159.80" y="172.40" font-size="5.8" text-anchor="start" font-weight="bold" fill="#000" >50K</text>
<line x1="146.00" y1="177.50" x2="158.30" y2="177.50" stroke="#b8b8e0" stroke-width="1.1"/>
<circle cx="152.20" cy="177.50" r="1.2" fill="#00007f"/>
<text x="159.80" y="179.50" font-size="5.8" text-anchor="start" font-weight="bold" fill="#000" >100K</text>
<text x="115.8" y="139.5" font-size="7.4" font-weight="bold">Bi<tspan font-size="5.2" dy="1.9">2</tspan><tspan dy="-1.9">Se</tspan><tspan font-size="5.2" dy="1.9">3</tspan></text>
<text x="172.20" y="141.60" font-size="10.0" text-anchor="start" font-weight="bold" fill="#000" >(c)</text>
<rect x="92.60" y="129.10" width="133.20" height="106.80" fill="none" stroke="#000" stroke-width="1.5"/>
<line x1="242.80" y1="128.10" x2="245.00" y2="128.10" stroke="#000" stroke-width="0.8"/>
<text x="242.20" y="130.60" font-size="6.2" text-anchor="end" font-weight="bold" fill="#000" >2</text>
<line x1="242.80" y1="149.50" x2="245.00" y2="149.50" stroke="#000" stroke-width="0.8"/>
<text x="242.20" y="152.00" font-size="6.2" text-anchor="end" font-weight="bold" fill="#000" >0</text>
<line x1="242.80" y1="170.90" x2="245.00" y2="170.90" stroke="#000" stroke-width="0.8"/>
<text x="242.20" y="173.40" font-size="6.2" text-anchor="end" font-weight="bold" fill="#000" >-2</text>
<line x1="242.80" y1="192.30" x2="245.00" y2="192.30" stroke="#000" stroke-width="0.8"/>
<text x="242.20" y="194.80" font-size="6.2" text-anchor="end" font-weight="bold" fill="#000" >-4</text>
<line x1="242.80" y1="213.70" x2="245.00" y2="213.70" stroke="#000" stroke-width="0.8"/>
<text x="242.20" y="216.20" font-size="6.2" text-anchor="end" font-weight="bold" fill="#000" >-6</text>
<line x1="242.80" y1="235.10" x2="245.00" y2="235.10" stroke="#000" stroke-width="0.8"/>
<text x="242.20" y="237.60" font-size="6.2" text-anchor="end" font-weight="bold" fill="#000" >-8</text>
<line x1="243.70" y1="138.80" x2="245.00" y2="138.80" stroke="#000" stroke-width="0.6"/>
<line x1="243.70" y1="160.20" x2="245.00" y2="160.20" stroke="#000" stroke-width="0.6"/>
<line x1="243.70" y1="181.60" x2="245.00" y2="181.60" stroke="#000" stroke-width="0.6"/>
<line x1="243.70" y1="203.00" x2="245.00" y2="203.00" stroke="#000" stroke-width="0.6"/>
<line x1="243.70" y1="224.40" x2="245.00" y2="224.40" stroke="#000" stroke-width="0.6"/>
<line x1="250.60" y1="235.70" x2="250.60" y2="237.90" stroke="#000" stroke-width="0.8"/>
<text x="250.60" y="244.30" font-size="6.2" text-anchor="middle" font-weight="bold" fill="#000" >-12</text>
<line x1="260.80" y1="235.70" x2="260.80" y2="237.90" stroke="#000" stroke-width="0.8"/>
<text x="260.80" y="244.30" font-size="6.2" text-anchor="middle" font-weight="bold" fill="#000" >-10</text>
<line x1="271.00" y1="235.70" x2="271.00" y2="237.90" stroke="#000" stroke-width="0.8"/>
<text x="271.00" y="244.30" font-size="6.2" text-anchor="middle" font-weight="bold" fill="#000" >-8</text>
<line x1="281.20" y1="235.70" x2="281.20" y2="237.90" stroke="#000" stroke-width="0.8"/>
<text x="281.20" y="244.30" font-size="6.2" text-anchor="middle" font-weight="bold" fill="#000" >-6</text>
<line x1="291.40" y1="235.70" x2="291.40" y2="237.90" stroke="#000" stroke-width="0.8"/>
<text x="291.40" y="244.30" font-size="6.2" text-anchor="middle" font-weight="bold" fill="#000" >-4</text>
<line x1="301.60" y1="235.70" x2="301.60" y2="237.90" stroke="#000" stroke-width="0.8"/>
<text x="301.60" y="244.30" font-size="6.2" text-anchor="middle" font-weight="bold" fill="#000" >-2</text>
<line x1="311.80" y1="235.70" x2="311.80" y2="237.90" stroke="#000" stroke-width="0.8"/>
<text x="312.20" y="244.30" font-size="6.2" text-anchor="middle" font-weight="bold" fill="#000" >0</text>
<line x1="322.00" y1="235.70" x2="322.00" y2="237.90" stroke="#000" stroke-width="0.8"/>
<text x="322.40" y="244.30" font-size="6.2" text-anchor="middle" font-weight="bold" fill="#000" >2</text>
<line x1="332.20" y1="235.70" x2="332.20" y2="237.90" stroke="#000" stroke-width="0.8"/>
<text x="332.60" y="244.30" font-size="6.2" text-anchor="middle" font-weight="bold" fill="#000" >4</text>
<line x1="342.40" y1="235.70" x2="342.40" y2="237.90" stroke="#000" stroke-width="0.8"/>
<text x="342.80" y="244.30" font-size="6.2" text-anchor="middle" font-weight="bold" fill="#000" >6</text>
<line x1="352.60" y1="235.70" x2="352.60" y2="237.90" stroke="#000" stroke-width="0.8"/>
<text x="353.00" y="244.30" font-size="6.2" text-anchor="middle" font-weight="bold" fill="#000" >8</text>
<line x1="362.80" y1="235.70" x2="362.80" y2="237.90" stroke="#000" stroke-width="0.8"/>
<text x="363.20" y="244.30" font-size="6.2" text-anchor="middle" font-weight="bold" fill="#000" >10</text>
<line x1="373.00" y1="235.70" x2="373.00" y2="237.90" stroke="#000" stroke-width="0.8"/>
<text x="373.40" y="244.30" font-size="6.2" text-anchor="middle" font-weight="bold" fill="#000" >12</text>
<line x1="255.70" y1="235.70" x2="255.70" y2="237.00" stroke="#000" stroke-width="0.6"/>
<line x1="265.90" y1="235.70" x2="265.90" y2="237.00" stroke="#000" stroke-width="0.6"/>
<line x1="276.10" y1="235.70" x2="276.10" y2="237.00" stroke="#000" stroke-width="0.6"/>
<line x1="286.30" y1="235.70" x2="286.30" y2="237.00" stroke="#000" stroke-width="0.6"/>
<line x1="296.50" y1="235.70" x2="296.50" y2="237.00" stroke="#000" stroke-width="0.6"/>
<line x1="306.70" y1="235.70" x2="306.70" y2="237.00" stroke="#000" stroke-width="0.6"/>
<line x1="316.90" y1="235.70" x2="316.90" y2="237.00" stroke="#000" stroke-width="0.6"/>
<line x1="327.10" y1="235.70" x2="327.10" y2="237.00" stroke="#000" stroke-width="0.6"/>
<line x1="337.30" y1="235.70" x2="337.30" y2="237.00" stroke="#000" stroke-width="0.6"/>
<line x1="347.50" y1="235.70" x2="347.50" y2="237.00" stroke="#000" stroke-width="0.6"/>
<line x1="357.70" y1="235.70" x2="357.70" y2="237.00" stroke="#000" stroke-width="0.6"/>
<line x1="367.90" y1="235.70" x2="367.90" y2="237.00" stroke="#000" stroke-width="0.6"/>
<text x="312.60" y="250.60" font-size="5.9" text-anchor="middle" font-weight="bold" fill="#000" >B (Tesla)</text>
<text transform="translate(233.9,179.4) rotate(-90)" font-size="5.0" text-anchor="middle" font-weight="bold">MR (%)</text>
<polyline points="251.50,231.51 264.30,204.20 277.50,176.00 285.30,159.50 289.80,149.00 292.80,142.80 295.80,138.60 299.00,136.20 302.80,136.40 306.30,136.80 307.90,138.40 309.20,141.60 310.30,145.40 311.30,149.00 312.30,151.30 313.30,149.00 314.30,145.40 315.40,141.60 316.70,138.40 318.30,136.80 321.80,136.40 325.60,136.20 328.80,138.60 331.80,142.80 334.80,149.00 339.30,159.50 347.10,176.00 360.30,204.20 373.80,233.00" fill="none" stroke="#000" stroke-width="2.4" stroke-linejoin="round" stroke-linecap="round" />
<circle cx="312.30" cy="151.30" r="1.35" fill="#000"/>
<circle cx="312.30" cy="151.30" r="1.35" fill="#000"/>
<circle cx="309.20" cy="141.60" r="1.35" fill="#000"/>
<circle cx="315.40" cy="141.60" r="1.35" fill="#000"/>
<circle cx="306.30" cy="136.80" r="1.35" fill="#000"/>
<circle cx="318.30" cy="136.80" r="1.35" fill="#000"/>
<circle cx="302.80" cy="136.40" r="1.35" fill="#000"/>
<circle cx="321.80" cy="136.40" r="1.35" fill="#000"/>
<circle cx="299.00" cy="136.20" r="1.35" fill="#000"/>
<circle cx="325.60" cy="136.20" r="1.35" fill="#000"/>
<circle cx="295.80" cy="138.60" r="1.35" fill="#000"/>
<circle cx="328.80" cy="138.60" r="1.35" fill="#000"/>
<polyline points="251.80,196.91 253.50,195.54 255.89,193.60 258.69,191.34 261.59,189.00 264.30,186.80 266.85,184.78 269.44,182.79 272.03,180.77 274.56,178.69 277.00,176.50 279.40,174.05 281.79,171.37 284.09,168.68 286.22,166.22 288.10,164.20 289.69,162.73 291.03,161.65 292.20,160.82 293.27,160.08 294.30,159.30 295.26,158.49 296.09,157.77 296.87,157.07 297.65,156.37 298.50,155.60 299.48,154.74 300.53,153.82 301.59,152.89 302.57,152.00 303.40,151.20 304.05,150.50 304.58,149.86 305.02,149.29 305.42,148.77 305.80,148.30 306.15,147.88 306.44,147.52 306.71,147.21 306.98,146.97 307.30,146.80 307.65,146.71 308.02,146.69 308.40,146.74 308.83,146.84 309.30,147.00 309.84,147.28 310.43,147.69 311.05,148.12 311.68,148.46 312.30,148.60 312.92,148.46 313.55,148.12 314.17,147.69 314.76,147.28 315.30,147.00 315.77,146.84 316.20,146.74 316.58,146.69 316.95,146.71 317.30,146.80 317.62,146.97 317.89,147.21 318.16,147.52 318.45,147.88 318.80,148.30 319.18,148.77 319.58,149.29 320.02,149.86 320.55,150.50 321.20,151.20 322.03,152.00 323.01,152.89 324.07,153.82 325.12,154.74 326.10,155.60 326.95,156.37 327.73,157.07 328.51,157.77 329.34,158.49 330.30,159.30 331.33,160.08 332.40,160.82 333.57,161.65 334.91,162.73 336.50,164.20 338.38,166.22 340.51,168.68 342.81,171.37 345.20,174.05 347.60,176.50 350.02,178.68 352.52,180.73 355.08,182.73 357.68,184.73 360.30,186.80 363.18,189.13 366.33,191.68 369.40,194.16 372.04,196.29 373.90,197.80" fill="none" stroke="#ff0000" stroke-width="2.6" stroke-linejoin="round" stroke-linecap="round" />
<polyline points="251.80,175.77 253.27,175.00 255.36,173.90 257.78,172.63 260.19,171.34 262.30,170.20 264.02,169.23 265.57,168.32 267.06,167.44 268.60,166.54 270.30,165.60 272.27,164.56 274.44,163.45 276.64,162.34 278.71,161.30 280.50,160.40 281.91,159.69 283.04,159.12 284.04,158.62 285.04,158.13 286.20,157.60 287.56,157.00 289.03,156.37 290.53,155.74 291.98,155.14 293.30,154.60 294.47,154.13 295.54,153.71 296.54,153.33 297.52,152.96 298.50,152.60 299.48,152.23 300.44,151.88 301.38,151.54 302.33,151.21 303.30,150.90 304.30,150.60 305.33,150.30 306.36,150.02 307.36,149.78 308.30,149.60 309.16,149.48 309.97,149.42 310.75,149.40 311.52,149.40 312.30,149.40 313.08,149.40 313.85,149.40 314.63,149.42 315.44,149.48 316.30,149.60 317.24,149.78 318.24,150.02 319.27,150.30 320.30,150.60 321.30,150.90 322.27,151.21 323.22,151.54 324.16,151.88 325.12,152.23 326.10,152.60 327.08,152.96 328.06,153.33 329.06,153.71 330.13,154.13 331.30,154.60 332.62,155.14 334.07,155.74 335.57,156.37 337.04,157.00 338.40,157.60 339.56,158.13 340.56,158.62 341.56,159.12 342.69,159.69 344.10,160.40 345.89,161.30 347.96,162.34 350.16,163.45 352.33,164.56 354.30,165.60 355.98,166.53 357.49,167.41 358.95,168.28 360.51,169.19 362.30,170.20 364.56,171.42 367.20,172.82 369.86,174.23 372.18,175.45 373.80,176.30" fill="none" stroke="#0000ff" stroke-width="2.6" stroke-linejoin="round" stroke-linecap="round" />
<polyline points="251.80,160.66 253.94,160.16 256.99,159.45 260.52,158.62 264.10,157.77 267.30,157.00 270.11,156.27 272.80,155.53 275.42,154.81 277.97,154.15 280.50,153.60 283.07,153.17 285.67,152.84 288.19,152.58 290.50,152.34 292.50,152.10 294.09,151.86 295.34,151.66 296.40,151.46 297.41,151.25 298.50,151.00 299.71,150.72 300.94,150.41 302.16,150.08 303.29,149.74 304.30,149.40 305.16,149.03 305.91,148.61 306.58,148.21 307.20,147.85 307.80,147.60 308.37,147.46 308.90,147.40 309.38,147.40 309.85,147.44 310.30,147.50 310.73,147.61 311.14,147.79 311.52,147.98 311.91,148.14 312.30,148.20 312.69,148.14 313.08,147.98 313.46,147.79 313.87,147.61 314.30,147.50 314.75,147.44 315.22,147.40 315.70,147.40 316.23,147.46 316.80,147.60 317.40,147.85 318.02,148.21 318.69,148.61 319.44,149.03 320.30,149.40 321.31,149.74 322.44,150.08 323.66,150.41 324.89,150.72 326.10,151.00 327.19,151.25 328.20,151.46 329.26,151.66 330.51,151.86 332.10,152.10 334.10,152.34 336.41,152.58 338.93,152.84 341.53,153.17 344.10,153.60 346.61,154.15 349.14,154.80 351.72,155.51 354.43,156.26 357.30,157.00 360.65,157.81 364.45,158.71 368.23,159.60 371.50,160.36 373.80,160.90" fill="none" stroke="#ff00ff" stroke-width="2.5" stroke-linejoin="round" stroke-linecap="round" />
<polyline points="251.80,147.12 254.50,147.17 258.25,147.22 262.71,147.30 267.51,147.42 272.30,147.60 277.37,147.89 282.96,148.27 288.64,148.68 293.96,149.04 298.50,149.30 302.05,149.43 304.91,149.46 307.38,149.45 309.74,149.42 312.30,149.40 314.86,149.42 317.22,149.45 319.69,149.46 322.55,149.43 326.10,149.30 330.62,149.04 335.91,148.68 341.56,148.27 347.16,147.89 352.30,147.60 357.24,147.42 362.27,147.29 366.97,147.21 370.95,147.15 373.80,147.10" fill="none" stroke="#8a8a00" stroke-width="2.4" stroke-linejoin="round" stroke-linecap="round" />
<polyline points="251.80,148.82 254.50,148.86 258.25,148.91 262.71,148.98 267.51,149.08 272.30,149.20 277.37,149.38 282.96,149.62 288.64,149.87 293.96,150.08 298.50,150.20 302.05,150.20 304.91,150.10 307.38,149.97 309.74,149.85 312.30,149.80 314.86,149.85 317.22,149.97 319.69,150.10 322.55,150.20 326.10,150.20 330.62,150.08 335.91,149.87 341.56,149.62 347.16,149.38 352.30,149.20 357.24,149.08 362.27,148.98 366.97,148.90 370.95,148.84 373.80,148.80" fill="none" stroke="#7a007a" stroke-width="2.4" stroke-linejoin="round" stroke-linecap="round" />
<line x1="297.80" y1="164.20" x2="311.10" y2="164.20" stroke="#bbb" stroke-width="1.0"/>
<circle cx="304.40" cy="164.20" r="1.2" fill="#000"/>
<text x="313.30" y="166.50" font-size="6.5" text-anchor="start" font-weight="bold" fill="#000" >2K</text>
<line x1="297.80" y1="172.00" x2="311.10" y2="172.00" stroke="#ffa0a0" stroke-width="1.0"/>
<circle cx="304.40" cy="172.00" r="1.2" fill="#ff0000"/>
<text x="313.30" y="174.30" font-size="6.5" text-anchor="start" font-weight="bold" fill="#000" >5K</text>
<line x1="297.80" y1="179.40" x2="311.10" y2="179.40" stroke="#b0f0b0" stroke-width="1.0"/>
<circle cx="304.40" cy="179.40" r="1.2" fill="#0000ff"/>
<text x="313.30" y="181.70" font-size="6.5" text-anchor="start" font-weight="bold" fill="#000" >10K</text>
<line x1="297.80" y1="187.10" x2="311.10" y2="187.10" stroke="#c8c8ff" stroke-width="1.0"/>
<circle cx="304.40" cy="187.10" r="1.2" fill="#ff00ff"/>
<text x="313.30" y="189.40" font-size="6.5" text-anchor="start" font-weight="bold" fill="#000" >20K</text>
<line x1="297.80" y1="194.90" x2="311.10" y2="194.90" stroke="#b8f8f8" stroke-width="1.0"/>
<circle cx="304.40" cy="194.90" r="1.2" fill="#808000"/>
<text x="313.30" y="197.20" font-size="6.5" text-anchor="start" font-weight="bold" fill="#000" >50K</text>
<line x1="297.80" y1="202.60" x2="311.10" y2="202.60" stroke="#ffc0ff" stroke-width="1.0"/>
<circle cx="304.40" cy="202.60" r="1.2" fill="#700070"/>
<text x="313.30" y="204.90" font-size="6.5" text-anchor="start" font-weight="bold" fill="#000" >100K</text>
<text x="286.8" y="219.1" font-size="7.6" font-weight="bold">Cr doped Bi<tspan font-size="5.6" dy="2.2">2</tspan><tspan dy="-2.2">Se</tspan><tspan font-size="5.6" dy="2.2">3</tspan></text>
<text x="337.80" y="141.40" font-size="10.0" text-anchor="start" font-weight="bold" fill="#000" >(d)</text>
<rect x="245.00" y="129.00" width="133.60" height="106.70" fill="none" stroke="#000" stroke-width="1.5"/>
</svg>
</body></html>
